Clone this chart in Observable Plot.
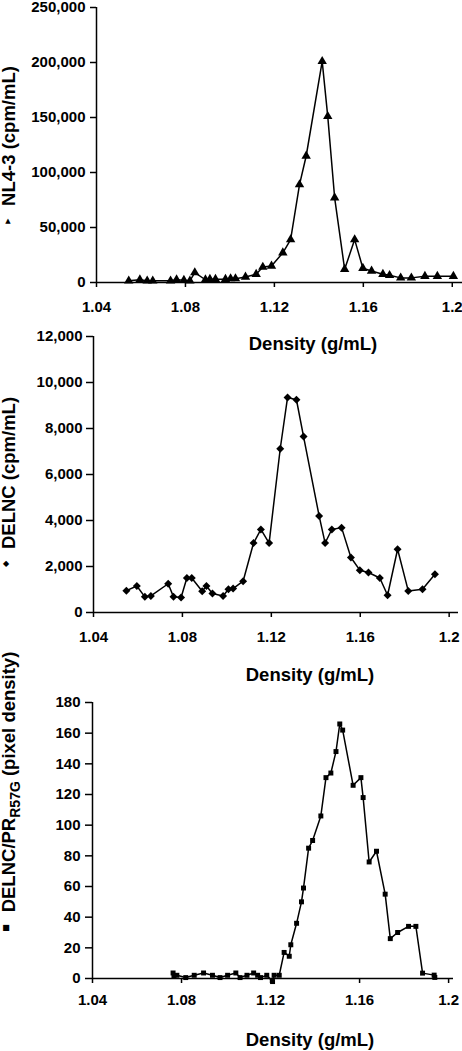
<!DOCTYPE html>
<html><head><meta charset="utf-8">
<script src="https://cdn.jsdelivr.net/npm/d3@7"></script>
<script src="https://cdn.jsdelivr.net/npm/@observablehq/plot@0.6"></script>
<style>
body{margin:0;background:#fff;}
#chart{position:relative;width:462px;height:1051px;background:#fff;}
#chart svg{position:absolute;left:0;overflow:visible;}
</style></head><body><div id="chart"></div>
<script>
// ---- data ----
const xTickValues = [1.04, 1.08, 1.12, 1.16, 1.2];

const nl43Density = [1.0545, 1.0595, 1.0628, 1.0653, 1.0733, 1.0760, 1.0793, 1.0820, 1.0842, 1.0890, 1.0910, 1.0935, 1.0980, 1.1003, 1.1025, 1.1070, 1.1118, 1.1148, 1.1187, 1.1238, 1.1273, 1.1313, 1.1343, 1.1415, 1.1440, 1.1471, 1.1516, 1.1561, 1.1598, 1.1637, 1.1688, 1.1718, 1.1768, 1.1816, 1.1877, 1.1933, 1.2005];
const nl43Cpm = [1500, 2500, 1500, 1500, 1500, 2500, 2000, 1500, 9000, 2500, 3000, 3000, 3000, 3500, 3500, 5000, 7500, 14000, 15000, 27000, 39000, 89000, 115000, 201000, 151000, 77000, 12000, 39000, 13000, 10500, 7500, 6500, 4200, 4200, 5700, 5700, 5700];
const nl43Ticks = [0, 50000, 100000, 150000, 200000, 250000];

const delncDensity = [1.0548, 1.0595, 1.0631, 1.0658, 1.0736, 1.0760, 1.0794, 1.0820, 1.0842, 1.0889, 1.0908, 1.0935, 1.0983, 1.1007, 1.1028, 1.1073, 1.1120, 1.1153, 1.1190, 1.1240, 1.1273, 1.1313, 1.1345, 1.1415, 1.1442, 1.1472, 1.1516, 1.1558, 1.1598, 1.1637, 1.1688, 1.1723, 1.1768, 1.1816, 1.1880, 1.1936];
const delncCpm = [950, 1150, 680, 720, 1250, 680, 650, 1500, 1500, 925, 1150, 825, 720, 1010, 1040, 1360, 3020, 3610, 3020, 7120, 9350, 9250, 7650, 4200, 3020, 3610, 3690, 2390, 1840, 1740, 1500, 750, 2750, 940, 1010, 1660];
const delncTicks = [0, 2000, 4000, 6000, 8000, 10000, 12000];

const prDensity = [1.0762, 1.0766, 1.0779, 1.0819, 1.0857, 1.0899, 1.0939, 1.0973, 1.1007, 1.1044, 1.1063, 1.1094, 1.1124, 1.1142, 1.1155, 1.1183, 1.1209, 1.1216, 1.1239, 1.1261, 1.1284, 1.1291, 1.1317, 1.1339, 1.1348, 1.1371, 1.1389, 1.1426, 1.1449, 1.1471, 1.1494, 1.1511, 1.1524, 1.1571, 1.1606, 1.1616, 1.1643, 1.1676, 1.1715, 1.1738, 1.1771, 1.1820, 1.1853, 1.1883, 1.1935, 1.1938];
const prPixel = [3.6, 1.7, 2.1, 0.6, 2.1, 3.6, 2.1, 0.6, 2.1, 3.6, 0.6, 2.1, 3.6, 2.1, 0.6, 2.1, -2, 2.1, 2.1, 17, 14.5, 22, 36, 50, 59, 85, 90, 106, 131, 134, 148, 166, 162, 126, 131, 118, 76, 83, 55, 26, 30, 34, 34, 3.5, 2.2, 0.7];
const prTicks = [0, 20, 40, 60, 80, 100, 120, 140, 160, 180];

const xLabel = "Density (g/mL)";

// ---- drawing ----
const chart = document.getElementById("chart");
const FONT = "'Liberation Sans', Arial, Helvetica, sans-serif";
const yFmt = d3.format(",d");

function panel(o) {
  const data = o.density.map((d, i) => ({d, v: o.values[i]}));
  const svgEl = Plot.plot({
    width: 462, height: o.height,
    marginTop: o.mt, marginBottom: o.mb, marginLeft: o.ml, marginRight: o.mr,
    style: {background: "transparent", fontFamily: FONT, fontSize: "15px", fontWeight: "bold", color: "#000", overflow: "visible"},
    x: {domain: [1.04, o.xMax], label: null},
    y: {domain: o.yDomain, label: null},
    marks: [
      Plot.axisX({ticks: xTickValues, tickSize: 5, tickPadding: o.xtPad, tickFormat: d => String(d), label: null, strokeWidth: 1.5}),
      Plot.axisY({ticks: o.yTicks, tickSize: o.ytSize, tickPadding: o.ytPad, tickFormat: yFmt, label: null, strokeWidth: 1.5}),
      Plot.ruleY([o.yDomain[0]], {stroke: "#000", strokeWidth: 1.5}),
      Plot.ruleX([1.04], {stroke: "#000", strokeWidth: 1.5}),
      Plot.line(data, {x: "d", y: "v", stroke: "#000", strokeWidth: 1.5}),
      Plot.dot(data, {x: "d", y: "v", symbol: o.symbol, r: o.r, fill: "#000", stroke: "none"})
    ]
  });
  svgEl.style.top = o.top + "px";
  const svg = d3.select(svgEl);
  // x label
  svg.append("text").attr("x", o.xl[0]).attr("y", o.xl[1]).attr("text-anchor", "middle")
    .style("font-family", FONT).style("font-weight", "bold").style("font-size", "18.5px").text(xLabel);
  // y label
  const t = svg.append("text").attr("transform", `translate(15,${o.yl}) rotate(-90)`).attr("text-anchor", "middle")
    .style("font-family", FONT).style("font-weight", "bold").style("font-size", "18.5px");
  o.yText.forEach(p => {
    const ts = t.append("tspan").text(p.text);
    if (p.sub) ts.attr("dy", 5).style("font-size", "14px");
    if (p.after) ts.attr("dy", -5);
  });
  // marker glyph
  svg.append("text").attr("x", o.mk[0]).attr("y", o.mk[1]).attr("text-anchor", "middle").attr("dominant-baseline", "central")
    .style("font-family", "'DejaVu Sans', sans-serif").style("font-size", o.mkSize + "px").style("font-weight", "normal").text(o.mkGlyph);
  chart.appendChild(svgEl);
}

panel({density: nl43Density, values: nl43Cpm, symbol: "triangle", r: 3.5, yTicks: nl43Ticks, yDomain: [0, 250000],
  xMax: 1.2046, top: 0, height: 325, mt: 7, mb: 43, ml: 96, mr: 0, ytSize: 6, ytPad: 5, xtPad: 14,
  xl: [313, 350], yl: 136, yText: [{text: "NL4-3 (cpm/mL)"}], mk: [8, 221], mkGlyph: "▲", mkSize: 7});

panel({density: delncDensity, values: delncCpm, symbol: "diamond2", r: 3.6, yTicks: delncTicks, yDomain: [0, 12000],
  xMax: 1.2042, top: 325, height: 360, mt: 11, mb: 73, ml: 93, mr: 4, ytSize: 7, ytPad: 4, xtPad: 14,
  xl: [310, 356], yl: 148, yText: [{text: "DELNC (cpm/mL)"}], mk: [6, 238], mkGlyph: "◆", mkSize: 8});

panel({density: prDensity, values: prPixel, symbol: "square", r: 2.8, yTicks: prTicks, yDomain: [0, 180],
  xMax: 1.2022, top: 685, height: 366, mt: 17, mb: 73, ml: 92, mr: 9, ytSize: 7, ytPad: 5, xtPad: 11,
  xl: [310, 361], yl: 97, yText: [{text: "DELNC/PR"}, {text: "R57G", sub: true}, {text: " (pixel density)", after: true}], mk: [6, 242], mkGlyph: "■", mkSize: 8});
</script>
</body></html>
